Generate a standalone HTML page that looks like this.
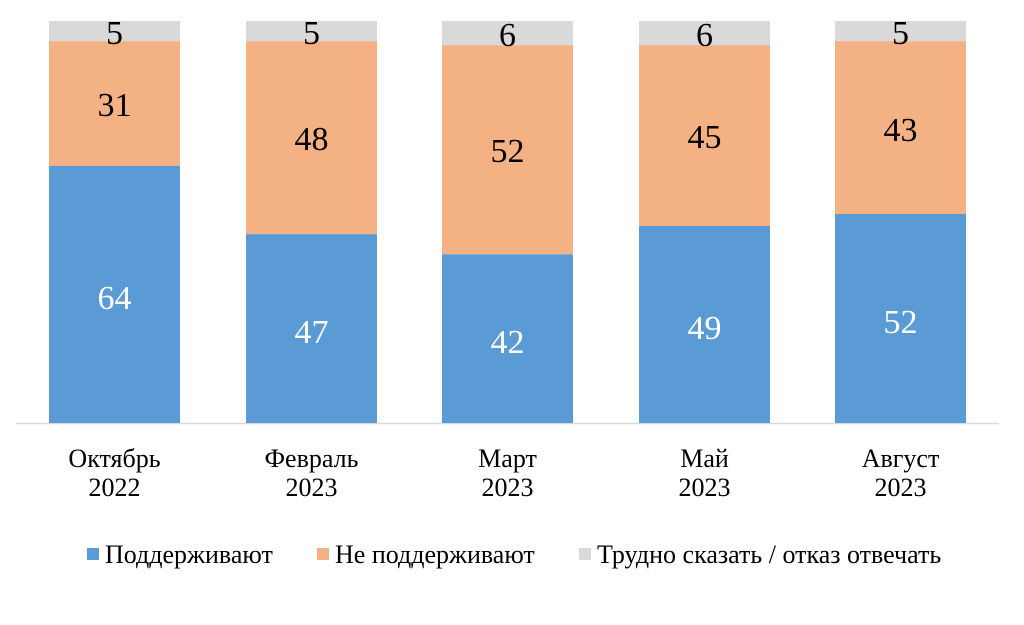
<!DOCTYPE html>
<html><head><meta charset="utf-8"><style>
html,body{margin:0;padding:0;background:#fff;}
svg{display:block;}
text{font-family:"Liberation Serif",serif;}
</style></head><body>
<svg width="1024" height="625" viewBox="0 0 1024 625" xmlns="http://www.w3.org/2000/svg">
<line x1="16" y1="423.5" x2="999" y2="423.5" stroke="#d9d9d9" stroke-width="1.5"/>
<rect x="49" y="165.7" width="131" height="257.3" fill="#5b9bd5"/>
<rect x="49" y="41.1" width="131" height="124.6" fill="#f4b183"/>
<rect x="49" y="21" width="131" height="20.1" fill="#d9d9d9"/>
<rect x="246" y="234.1" width="131" height="188.9" fill="#5b9bd5"/>
<rect x="246" y="41.1" width="131" height="193" fill="#f4b183"/>
<rect x="246" y="21" width="131" height="20.1" fill="#d9d9d9"/>
<rect x="442" y="254.2" width="131" height="168.8" fill="#5b9bd5"/>
<rect x="442" y="45.1" width="131" height="209.1" fill="#f4b183"/>
<rect x="442" y="21" width="131" height="24.1" fill="#d9d9d9"/>
<rect x="639" y="226" width="131" height="197" fill="#5b9bd5"/>
<rect x="639" y="45.1" width="131" height="180.9" fill="#f4b183"/>
<rect x="639" y="21" width="131" height="24.1" fill="#d9d9d9"/>
<rect x="835" y="214" width="131" height="209" fill="#5b9bd5"/>
<rect x="835" y="41.1" width="131" height="172.9" fill="#f4b183"/>
<rect x="835" y="21" width="131" height="20.1" fill="#d9d9d9"/>

<g font-size="34" text-anchor="middle">
<text x="114.5" y="309" fill="#fff">64</text>
<text x="114.5" y="116" fill="#000">31</text>
<text x="114.5" y="44" fill="#000">5</text>
<text x="311.5" y="343" fill="#fff">47</text>
<text x="311.5" y="150" fill="#000">48</text>
<text x="311.5" y="44" fill="#000">5</text>
<text x="507.5" y="353" fill="#fff">42</text>
<text x="507.5" y="162" fill="#000">52</text>
<text x="507.5" y="46" fill="#000">6</text>
<text x="704.5" y="339" fill="#fff">49</text>
<text x="704.5" y="148" fill="#000">45</text>
<text x="704.5" y="46" fill="#000">6</text>
<text x="900.5" y="333" fill="#fff">52</text>
<text x="900.5" y="141" fill="#000">43</text>
<text x="900.5" y="44" fill="#000">5</text>
</g>

<g font-size="26" text-anchor="middle" fill="#000">
<text x="114.5" y="467">Октябрь</text><text x="114.5" y="496">2022</text>
<text x="311.5" y="467">Февраль</text><text x="311.5" y="496">2023</text>
<text x="507.5" y="467">Март</text><text x="507.5" y="496">2023</text>
<text x="704.5" y="467">Май</text><text x="704.5" y="496">2023</text>
<text x="900.5" y="467">Август</text><text x="900.5" y="496">2023</text>
</g>

<g font-size="26" fill="#000">
<rect x="87" y="548" width="12" height="12" fill="#5b9bd5"/>
<text x="105" y="563">Поддерживают</text>
<rect x="317" y="548" width="12" height="12" fill="#f4b183"/>
<text x="335" y="563">Не поддерживают</text>
<rect x="579" y="548" width="12" height="12" fill="#d9d9d9"/>
<text x="597" y="563">Трудно сказать / отказ отвечать</text>
</g>
</svg>
</body></html>
